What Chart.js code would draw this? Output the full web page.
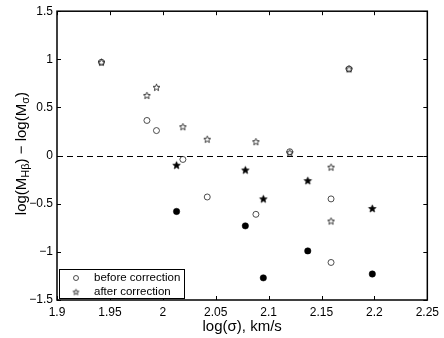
<!DOCTYPE html>
<html>
<head>
<meta charset="utf-8">
<script src="https://cdn.jsdelivr.net/npm/chart.js@4.4.0/dist/chart.umd.min.js"></script>
<style>
body { margin: 0; background: #fff; }
canvas { display: block; }
</style>
</head>
<body>
<canvas id="chart" width="444" height="338"></canvas>
<script>
// log(sigma) values and mass offsets
const openX = [1.942, 1.985, 1.994, 2.019, 2.042, 2.088, 2.120, 2.159, 2.159, 2.176];
const openBefore = [0.97, 0.365, 0.26, -0.04, -0.43, -0.61, 0.04, -0.45, -1.11, 0.90];
const openAfter = [0.97, 0.625, 0.71, 0.30, 0.17, 0.145, 0.03, -0.12, -0.68, 0.90];

const filledX = [2.013, 2.078, 2.095, 2.137, 2.198];
const filledBefore = [-0.58, -0.73, -1.27, -0.99, -1.23];
const filledAfter = [-0.10, -0.15, -0.45, -0.26, -0.55];

const xTicks = [1.9, 1.95, 2, 2.05, 2.1, 2.15, 2.2, 2.25];
const yTicks = [-1.5, -1, -0.5, 0, 0.5, 1, 1.5];
const legendLabels = ['before correction', 'after correction'];

const FONT = '"Liberation Sans", Arial, Helvetica, sans-serif';

function makeStar(filled, ro, ri) {
    const c = document.createElement('canvas');
    c.width = 11;
    c.height = 11;
    const g = c.getContext('2d');
    g.beginPath();
    for (let i = 0; i < 10; i++) {
        const r = i % 2 === 0 ? ro : ri;
        const a = -Math.PI / 2 + i * Math.PI / 5;
        const px = 5.5 + r * Math.cos(a);
        const py = 5.8 + r * Math.sin(a);
        if (i === 0) g.moveTo(px, py); else g.lineTo(px, py);
    }
    g.closePath();
    if (filled) {
        g.fillStyle = '#000';
        g.fill();
    }
    g.strokeStyle = filled ? '#000' : '#222';
    g.lineWidth = filled ? 0.6 : 0.9;
    g.stroke();
    return c;
}
const openStar = makeStar(false, 3.6, 1.6);
const filledStar = makeStar(true, 4, 1.8);
const legendStar = makeStar(false, 3, 1.3);

function pts(xs, ys) {
    return xs.map((x, i) => ({ x: x, y: ys[i] }));
}

// frame, inward ticks, dashed zero line, legend and axis titles
const framePlugin = {
    id: 'frame',
    beforeDatasetsDraw(chart) {
        const { ctx, chartArea: a, scales } = chart;
        ctx.save();
        const y0 = scales.y.getPixelForValue(0);
        ctx.strokeStyle = '#000';
        ctx.lineWidth = 1;
        ctx.setLineDash([6, 4]);
        ctx.beginPath();
        ctx.moveTo(a.left, Math.round(y0) + 0.5);
        ctx.lineTo(a.right, Math.round(y0) + 0.5);
        ctx.stroke();
        ctx.restore();
    },
    afterDatasetsDraw(chart) {
        const { ctx, chartArea: a, scales } = chart;
        ctx.save();
        ctx.strokeStyle = '#000';
        ctx.lineWidth = 1.5;
        ctx.strokeRect(a.left, a.top, a.right - a.left, a.bottom - a.top);
        ctx.lineWidth = 1;
        ctx.beginPath();
        xTicks.forEach(v => {
            const px = Math.round(scales.x.getPixelForValue(v)) + 0.5;
            ctx.moveTo(px, a.bottom); ctx.lineTo(px, a.bottom - 4);
            ctx.moveTo(px, a.top); ctx.lineTo(px, a.top + 4);
        });
        yTicks.forEach(v => {
            const py = Math.round(scales.y.getPixelForValue(v)) + 0.5;
            ctx.moveTo(a.left, py); ctx.lineTo(a.left + 4, py);
            ctx.moveTo(a.right, py); ctx.lineTo(a.right - 4, py);
        });
        ctx.stroke();

        // legend box
        const lx = 59.5, ly = 269.5, lw = 125, lh = 29;
        ctx.fillStyle = '#fff';
        ctx.fillRect(lx, ly, lw, lh);
        ctx.strokeStyle = '#000';
        ctx.lineWidth = 1;
        ctx.strokeRect(lx, ly, lw, lh);
        ctx.strokeStyle = '#222';
        ctx.lineWidth = 0.8;
        ctx.beginPath();
        ctx.arc(76, 278, 2.5, 0, Math.PI * 2);
        ctx.stroke();
        ctx.drawImage(legendStar, 76 - 5.5, 292 - 5.5);
        ctx.fillStyle = '#000';
        ctx.font = '11.5px ' + FONT;
        ctx.textBaseline = 'middle';
        ctx.textAlign = 'left';
        ctx.fillText(legendLabels[0], 94, 278);
        ctx.fillText(legendLabels[1], 94, 292);

        // x title
        ctx.font = '15px ' + FONT;
        ctx.textAlign = 'center';
        ctx.fillText('log(\u03c3), km/s', (a.left + a.right) / 2, 327);

        // y title with subscripts
        const parts = [
            ['log(M', 15, 0], ['H\u03b2', 11, 4], [') \u2212 log(M', 15, 0], ['\u03c3', 11, 4], [')', 15, 0]
        ];
        let total = 0;
        parts.forEach(p => { ctx.font = p[1] + 'px ' + FONT; total += ctx.measureText(p[0]).width; });
        ctx.translate(22, (a.top + a.bottom) / 2 - 2);
        ctx.rotate(-Math.PI / 2);
        ctx.textAlign = 'left';
        let cx = -total / 2;
        parts.forEach(p => {
            ctx.font = p[1] + 'px ' + FONT;
            ctx.fillText(p[0], cx, p[2]);
            cx += ctx.measureText(p[0]).width;
        });
        ctx.restore();
    }
};

const ctx = document.getElementById('chart').getContext('2d');
new Chart(ctx, {
    type: 'scatter',
    data: {
        datasets: [
            {
                label: legendLabels[0],
                data: pts(openX, openBefore),
                pointStyle: 'circle',
                pointRadius: 3,
                borderColor: '#222',
                borderWidth: 0.8,
                backgroundColor: 'rgba(0,0,0,0)'
            },
            {
                label: legendLabels[1],
                data: pts(openX, openAfter),
                pointStyle: openStar
            },
            {
                label: 'before (filled)',
                data: pts(filledX, filledBefore),
                pointStyle: 'circle',
                pointRadius: 3.2,
                borderColor: '#000',
                borderWidth: 0.5,
                backgroundColor: '#000'
            },
            {
                label: 'after (filled)',
                data: pts(filledX, filledAfter),
                pointStyle: filledStar
            }
        ]
    },
    options: {
        responsive: false,
        animation: false,
        layout: { padding: { left: 0, right: 16, top: 10, bottom: 0 } },
        plugins: {
            legend: { display: false },
            tooltip: { enabled: false }
        },
        scales: {
            x: {
                type: 'linear',
                min: 1.9,
                max: 2.25,
                afterBuildTicks: s => { s.ticks = xTicks.map(v => ({ value: v })); },
                afterFit: s => { s.height = 38; },
                grid: { display: false, drawTicks: false },
                border: { display: false },
                ticks: {
                    color: '#000',
                    font: { family: FONT, size: 12 },
                    padding: 5,
                    maxRotation: 0,
                    autoSkip: false,
                    callback: v => String(parseFloat(v.toFixed(2)))
                }
            },
            y: {
                min: -1.5,
                max: 1.5,
                afterBuildTicks: s => { s.ticks = yTicks.map(v => ({ value: v })); },
                afterFit: s => { s.width = 57; },
                grid: { display: false, drawTicks: false },
                border: { display: false },
                ticks: {
                    color: '#000',
                    font: { family: FONT, size: 12 },
                    padding: 4,
                    autoSkip: false,
                    callback: v => String(parseFloat(v.toFixed(2))).replace('-', '\u2212')
                }
            }
        }
    },
    plugins: [framePlugin]
});
</script>
</body>
</html>
